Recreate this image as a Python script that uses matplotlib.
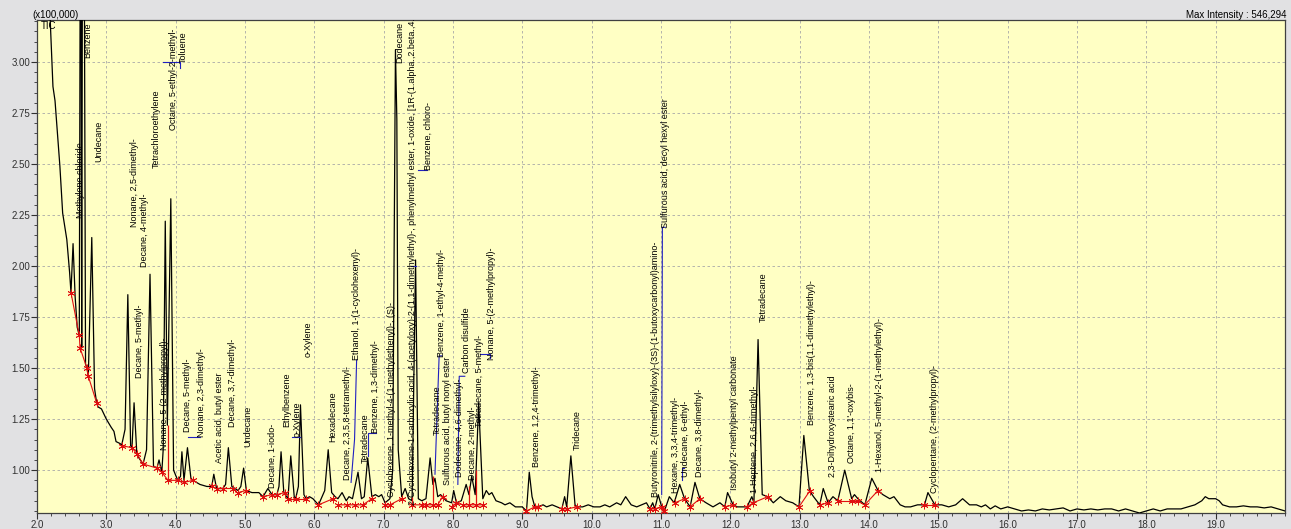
import matplotlib
matplotlib.use("Agg")
import matplotlib.pyplot as plt
from matplotlib.ticker import MultipleLocator, FormatStrFormatter

plt.rcParams["font.family"] = ["Liberation Sans", "DejaVu Sans"]

# TIC trace: retention time (min) and intensity (x100,000)
trace_rt = [
    2.00, 2.19, 2.23, 2.26, 2.33, 2.37, 2.43, 2.47, 2.49, 2.52, 2.55, 2.58, 2.61,
    2.63, 2.645, 2.665, 2.70, 2.72, 2.74, 2.79, 2.83, 2.86, 2.88, 2.93, 3.00, 3.07,
    3.11, 3.14, 3.20, 3.22, 3.27, 3.31, 3.35, 3.37, 3.40, 3.44, 3.47, 3.53, 3.58,
    3.63, 3.68, 3.73, 3.76, 3.80, 3.82, 3.85, 3.88, 3.93, 3.97, 4.03, 4.07, 4.09,
    4.12, 4.17, 4.22, 4.25, 4.35, 4.45, 4.52, 4.55, 4.59, 4.68, 4.72, 4.76, 4.81,
    4.90, 4.94, 4.98, 5.02, 5.10, 5.20, 5.26, 5.33, 5.39, 5.46, 5.49, 5.52, 5.56,
    5.62, 5.66, 5.71, 5.73, 5.77, 5.80, 5.85, 5.88, 5.93, 5.98, 6.06, 6.15, 6.20,
    6.25, 6.30, 6.34, 6.40, 6.46, 6.50, 6.55, 6.63, 6.68, 6.72, 6.77, 6.83, 6.88,
    6.93, 6.97, 7.02, 7.09, 7.13, 7.17, 7.19, 7.21, 7.26, 7.31, 7.36, 7.41, 7.46,
    7.50, 7.55, 7.61, 7.67, 7.71, 7.74, 7.78, 7.82, 7.85, 7.90, 7.98, 8.01, 8.05,
    8.12, 8.19, 8.23, 8.27, 8.32, 8.37, 8.43, 8.48, 8.52, 8.56, 8.62, 8.70, 8.75,
    8.82, 8.90, 9.00, 9.06, 9.10, 9.14, 9.18, 9.22, 9.30, 9.35, 9.43, 9.50, 9.57,
    9.61, 9.64, 9.70, 9.76, 9.79, 9.87, 9.95, 10.03, 10.12, 10.19, 10.26, 10.36,
    10.42, 10.49, 10.57, 10.65, 10.72, 10.79, 10.84, 10.88, 10.91, 10.96, 11.01,
    11.05, 11.12, 11.19, 11.27, 11.34, 11.42, 11.49, 11.56, 11.65, 11.70, 11.75,
    11.80, 11.85, 11.92, 11.96, 12.04, 12.10, 12.14, 12.24, 12.31, 12.34, 12.40,
    12.46, 12.54, 12.62, 12.72, 12.80, 12.90, 12.99, 13.06, 13.14, 13.20, 13.29,
    13.34, 13.41, 13.48, 13.55, 13.65, 13.75, 13.79, 13.84, 13.94, 14.04, 14.13,
    14.20, 14.30, 14.36, 14.45, 14.52, 14.60, 14.70, 14.80, 14.85, 14.95, 15.05,
    15.15, 15.25, 15.35, 15.45, 15.55, 15.62, 15.68, 15.75, 15.82, 15.90, 16.00,
    16.10, 16.20, 16.30, 16.40, 16.50, 16.60, 16.70, 16.80, 16.90, 17.00, 17.10,
    17.20, 17.30, 17.40, 17.50, 17.60, 17.70, 17.80, 17.90, 18.00, 18.10, 18.20,
    18.30, 18.40, 18.50, 18.60, 18.70, 18.80, 18.85, 18.90, 19.00, 19.05, 19.10,
    19.20, 19.30, 19.40, 19.50, 19.60, 19.70, 19.80, 19.90, 20.00,
]
trace_int = [
    3.80, 3.21, 2.88, 2.81, 2.49, 2.26, 2.13, 1.97, 1.87, 2.11, 1.85, 1.70, 1.66,
    4.50, 1.60, 5.46, 1.52, 1.50, 1.46, 2.14, 1.40, 1.33, 1.31, 1.30, 1.25, 1.21,
    1.19, 1.14, 1.13, 1.12, 1.20, 1.86, 1.12, 1.11, 1.33, 1.08, 1.06, 1.03, 1.10,
    1.96, 1.02, 1.01, 1.05, 0.99, 1.10, 2.22, 1.22, 2.33, 1.00, 0.95, 0.97, 1.09,
    0.95, 1.11, 0.96, 0.95, 0.93, 0.92, 0.92, 0.98, 0.91, 0.91, 0.93, 1.11, 0.92,
    0.90, 0.92, 1.01, 0.90, 0.89, 0.89, 0.87, 0.91, 0.88, 0.88, 0.92, 1.09, 0.89,
    0.86, 1.07, 0.87, 0.86, 0.92, 1.32, 0.88, 0.86, 0.87, 0.86, 0.83, 0.90, 1.10,
    0.89, 0.87, 0.86, 0.89, 0.85, 0.87, 0.86, 0.99, 0.86, 0.87, 1.06, 0.87, 0.88,
    0.87, 0.88, 0.84, 0.86, 1.00, 3.06, 2.72, 1.10, 0.87, 0.91, 0.86, 0.85, 2.03,
    0.86, 0.85, 0.86, 1.06, 0.93, 0.96, 0.87, 0.88, 0.87, 0.85, 0.84, 0.90, 0.84,
    0.85, 0.93, 0.88, 0.97, 0.88, 1.33, 0.86, 0.90, 0.88, 0.89, 0.85, 0.84, 0.83,
    0.84, 0.82, 0.82, 0.80, 0.99, 0.87, 0.82, 0.82, 0.83, 0.82, 0.83, 0.82, 0.81,
    0.87, 0.82, 1.07, 0.83, 0.82, 0.82, 0.83, 0.82, 0.82, 0.83, 0.82, 0.84,
    0.83, 0.87, 0.83, 0.82, 0.83, 0.84, 0.81, 0.84, 0.81, 0.88, 0.82,
    0.80, 0.87, 0.84, 0.93, 0.86, 0.82, 0.94, 0.86, 0.84, 0.83, 0.82,
    0.83, 0.84, 0.82, 0.89, 0.83, 0.82, 0.82, 0.82, 0.87, 0.84, 1.64,
    0.88, 0.87, 0.84, 0.87, 0.85, 0.84, 0.82, 1.17, 0.90, 0.87, 0.83,
    0.91, 0.84, 0.87, 0.85, 1.00, 0.86, 0.88, 0.86, 0.83, 0.96, 0.90,
    0.88, 0.86, 0.87, 0.83, 0.82, 0.82, 0.83, 0.83, 0.89, 0.83, 0.83,
    0.82, 0.83, 0.86, 0.83, 0.83, 0.82, 0.83, 0.81, 0.825, 0.81, 0.82,
    0.81, 0.80, 0.805, 0.80, 0.81, 0.805, 0.81, 0.815, 0.80, 0.81, 0.805,
    0.81, 0.805, 0.81, 0.81, 0.80, 0.81, 0.80, 0.79, 0.80, 0.81, 0.80,
    0.81, 0.81, 0.81, 0.82, 0.83, 0.85, 0.87, 0.86, 0.86, 0.85, 0.83,
    0.82, 0.82, 0.825, 0.82, 0.82, 0.815, 0.82, 0.81, 0.80,
]

# integration baseline marks (red), one list per baseline segment
baseline_groups = [
    [(2.49, 1.87), (2.61, 1.66), (2.62, 1.60), (2.72, 1.50), (2.74, 1.46), (2.86, 1.33)],
    [(3.22, 1.12), (3.37, 1.11), (3.44, 1.08), (3.53, 1.03), (3.73, 1.01), (3.80, 0.99),
     (3.89, 0.95), (4.03, 0.95), (4.12, 0.94), (4.25, 0.95)],
    [(4.52, 0.92), (4.59, 0.91), (4.68, 0.91), (4.83, 0.91)],
    [(4.90, 0.89), (5.01, 0.90)],
    [(5.26, 0.87), (5.39, 0.88), (5.46, 0.88), (5.57, 0.89)],
    [(5.62, 0.86), (5.73, 0.86), (5.88, 0.86)],
    [(6.06, 0.83), (6.27, 0.86)],
    [(6.34, 0.83), (6.47, 0.83), (6.58, 0.83), (6.70, 0.83), (6.83, 0.86)],
    [(7.02, 0.83), (7.09, 0.83), (7.26, 0.86)],
    [(7.41, 0.83), (7.55, 0.83), (7.61, 0.83), (7.71, 0.83), (7.78, 0.83), (7.85, 0.87)],
    [(7.98, 0.82), (8.05, 0.84), (8.14, 0.83), (8.23, 0.83), (8.33, 0.83), (8.43, 0.83)],
    [(9.06, 0.80), (9.18, 0.82), (9.22, 0.82)],
    [(9.57, 0.81), (9.64, 0.81), (9.79, 0.82)],
    [(10.84, 0.81), (10.91, 0.81), (11.01, 0.82), (11.05, 0.80)],
    [(11.20, 0.84), (11.34, 0.86)],
    [(11.42, 0.82), (11.56, 0.86)],
    [(11.92, 0.82), (12.04, 0.83)],
    [(12.24, 0.82), (12.33, 0.84), (12.54, 0.87)],
    [(12.99, 0.82), (13.15, 0.90)],
    [(13.29, 0.83), (13.41, 0.84)],
    [(13.55, 0.85), (13.75, 0.85), (13.84, 0.85)],
    [(13.94, 0.83), (14.13, 0.90)],
    [(14.80, 0.83), (14.95, 0.83)],
]

# red drop lines between overlapping peaks: rt, low, high
drop_rt = [3.89, 7.41, 7.71, 8.23, 8.33]
drop_low = [0.95, 0.83, 0.83, 0.83, 0.83]
drop_high = [1.22, 0.87, 0.97, 0.92, 1.00]

# peak identifications
peak_names = [
    "Methylene chloride", "Benzene", "Undecane", "Nonane, 2,5-dimethyl-",
    "Decane, 4-methyl-", "Tetrachloroethylene", "Octane, 5-ethyl-2-methyl-",
    "Toluene", "Decane, 5-methyl-", "Nonane, 5-(2-methylpropyl)-",
    "Decane, 5-methyl-", "Nonane, 2,3-dimethyl-", "Acetic acid, butyl ester",
    "Decane, 3,7-dimethyl-", "Undecane", "Decane, 1-iodo-", "Ethylbenzene",
    "o-Xylene", "o-Xylene", "Hexadecane", "Decane, 2,3,5,8-tetramethyl-",
    "Ethanol, 1-(1-cyclohexenyl)-", "Tetradecane", "Benzene, 1,3-dimethyl-",
    "Cyclohexene, 1-methyl-4-(1-methylethenyl)-, (S)-", "Dodecane",
    "2-Cyclohexene-1-carboxylic acid, 4-(acetyloxy)-2-(1,1-dimethylethyl)-, "
    "phenylmethyl ester, 1-oxide, [1R-(1.alpha.,2.beta.,4.beta.",
    "Benzene, chloro-", "Tetradecane", "Benzene, 1-ethyl-4-methyl-",
    "Sulfurous acid, butyl nonyl ester", "Dodecane, 4,6-dimethyl-",
    "Carbon disulfide", "Decane, 2-methyl-", "Tetradecane, 5-methyl-",
    "Nonane, 5-(2-methylpropyl)-", "Benzene, 1,2,4-trimethyl-", "Tridecane",
    "Butyronitrile, 2-(trimethylsilyloxy)-(3S)-(1-butoxycarbonyl)amino-",
    "Sulfurous acid, decyl hexyl ester", "Hexane, 3,3,4-trimethyl-",
    "Undecane, 6-ethyl-", "Decane, 3,8-dimethyl-",
    "Isobutyl 2-methylpentyl carbonate", "1-Heptene, 2,6,6-trimethyl-",
    "Tetradecane", "Benzene, 1,3-bis(1,1-dimethylethyl)-",
    "2,3-Dihydroxystearic acid", "Octane, 1,1'-oxybis-",
    "1-Hexanol, 5-methyl-2-(1-methylethyl)-", "Cyclopentane, (2-methylpropyl)-",
]
label_rt = [
    2.634, 2.735, 2.894, 3.413, 3.557, 3.716, 3.975, 4.105, 3.485, 3.846,
    4.177, 4.379, 4.639, 4.826, 5.043, 5.389, 5.605, 5.749, 5.908, 6.268,
    6.485, 6.614, 6.730, 6.888, 7.119, 7.234, 7.422, 7.638, 7.768, 7.840,
    7.926, 8.100, 8.200, 8.287, 8.388, 8.561, 9.210, 9.787, 10.926, 11.070,
    11.214, 11.358, 11.560, 12.065, 12.353, 12.469, 13.175, 13.478, 13.752,
    14.156, 14.949,
]
# where each label starts (bottom of the rotated text), in intensity units
label_base = [
    2.235, 3.020, 2.510, 2.190, 1.995, 2.480, 2.667, 2.995, 1.450, 1.098,
    1.186, 1.162, 1.034, 1.210, 1.113, 0.912, 1.210, 1.162, 1.554, 1.137,
    0.951, 1.539, 1.034, 1.181, 0.868, 2.995, 0.830, 2.470, 1.170, 1.554,
    0.926, 0.966, 1.475, 0.951, 1.210, 1.539, 1.015, 1.098, 0.868, 2.186,
    0.887, 0.966, 0.966, 0.902, 0.887, 1.725, 1.220, 0.966, 1.034, 0.990,
    0.887,
]

# blue leader lines from labels to their peaks
leaders = [
    [(3.82, 3.00), (4.06, 3.00), (4.06, 2.97)],
    [(4.18, 1.16), (4.35, 1.16)],
    [(5.68, 1.16), (5.79, 1.16)],
    [(6.61, 1.54), (6.58, 1.15), (6.53, 0.94)],
    [(6.77, 1.07), (6.77, 1.18), (6.89, 1.18)],
    [(7.40, 2.00), (7.47, 2.00)],
    [(7.49, 2.47), (7.62, 2.47)],
    [(7.74, 0.98), (7.80, 1.56), (7.84, 1.56)],
    [(8.07, 0.93), (8.09, 1.46), (8.17, 1.46)],
    [(8.39, 1.57), (8.53, 1.57), (8.53, 1.55)],
    [(11.01, 0.88), (11.02, 2.19), (11.06, 2.19)],
    [(11.30, 0.95), (11.30, 1.01), (11.33, 1.01)],
]

fig = plt.figure(figsize=(12.91, 5.29), dpi=100, facecolor="#E1E1E3")
ax = fig.add_axes([37 / 1291, 16 / 529, 1248 / 1291, 493 / 529])
ax.set_facecolor("#FFFFC4")

ax.plot(trace_rt, trace_int, color="black", linewidth=0.9, zorder=3)

for group in baseline_groups:
    gx = [p[0] for p in group]
    gy = [p[1] for p in group]
    ax.plot(gx, gy, color="#E01010", linewidth=0.8, marker=(6, 2, 0),
            markersize=5.5, markeredgewidth=0.6, zorder=4)

ax.vlines(drop_rt, drop_low, drop_high, color="#E01010", linewidth=0.9, zorder=4)

for line in leaders:
    ax.plot([p[0] for p in line], [p[1] for p in line], color="#2020C0",
            linewidth=0.8, zorder=5)

for name, rt, base in zip(peak_names, label_rt, label_base):
    ax.text(rt, base, name, rotation=90, ha="center", va="bottom",
            fontsize=6.5, color="black", clip_on=True, zorder=6)

ax.set_xlim(2.0, 20.0)
ax.set_ylim(0.79, 3.206)
ax.set_xticks([2, 3, 4, 5, 6, 7, 8, 9, 10, 11, 12, 13, 14, 15, 16, 17, 18, 19])
ax.xaxis.set_minor_locator(MultipleLocator(0.2))
ax.xaxis.set_major_formatter(FormatStrFormatter("%.1f"))
ax.yaxis.set_major_locator(MultipleLocator(0.25))
ax.yaxis.set_minor_locator(MultipleLocator(0.05))
ax.yaxis.set_major_formatter(FormatStrFormatter("%.2f"))
ax.tick_params(which="major", length=4, width=0.8, labelsize=7, pad=1, colors="#303030")
ax.tick_params(which="minor", length=2, width=0.6, colors="#303030")

ax.grid(True, which="major", color="#A8A8A8", linestyle=(0, (3, 3)), linewidth=0.6)
ax.set_axisbelow(True)
for side in ["left", "bottom", "top", "right"]:
    ax.spines[side].set_color("#404040")
    ax.spines[side].set_linewidth(0.9)

ax.text(0.003, 0.997, "TIC", transform=ax.transAxes, ha="left", va="top", fontsize=7)
fig.text(32 / 1291, 1 - 15 / 529, "(x100,000)", ha="left", va="center", fontsize=7)
fig.text(1286 / 1291, 1 - 15 / 529, "Max Intensity : 546,294", ha="right",
         va="center", fontsize=7)

fig.savefig("out.png", dpi=100, facecolor=fig.get_facecolor())
